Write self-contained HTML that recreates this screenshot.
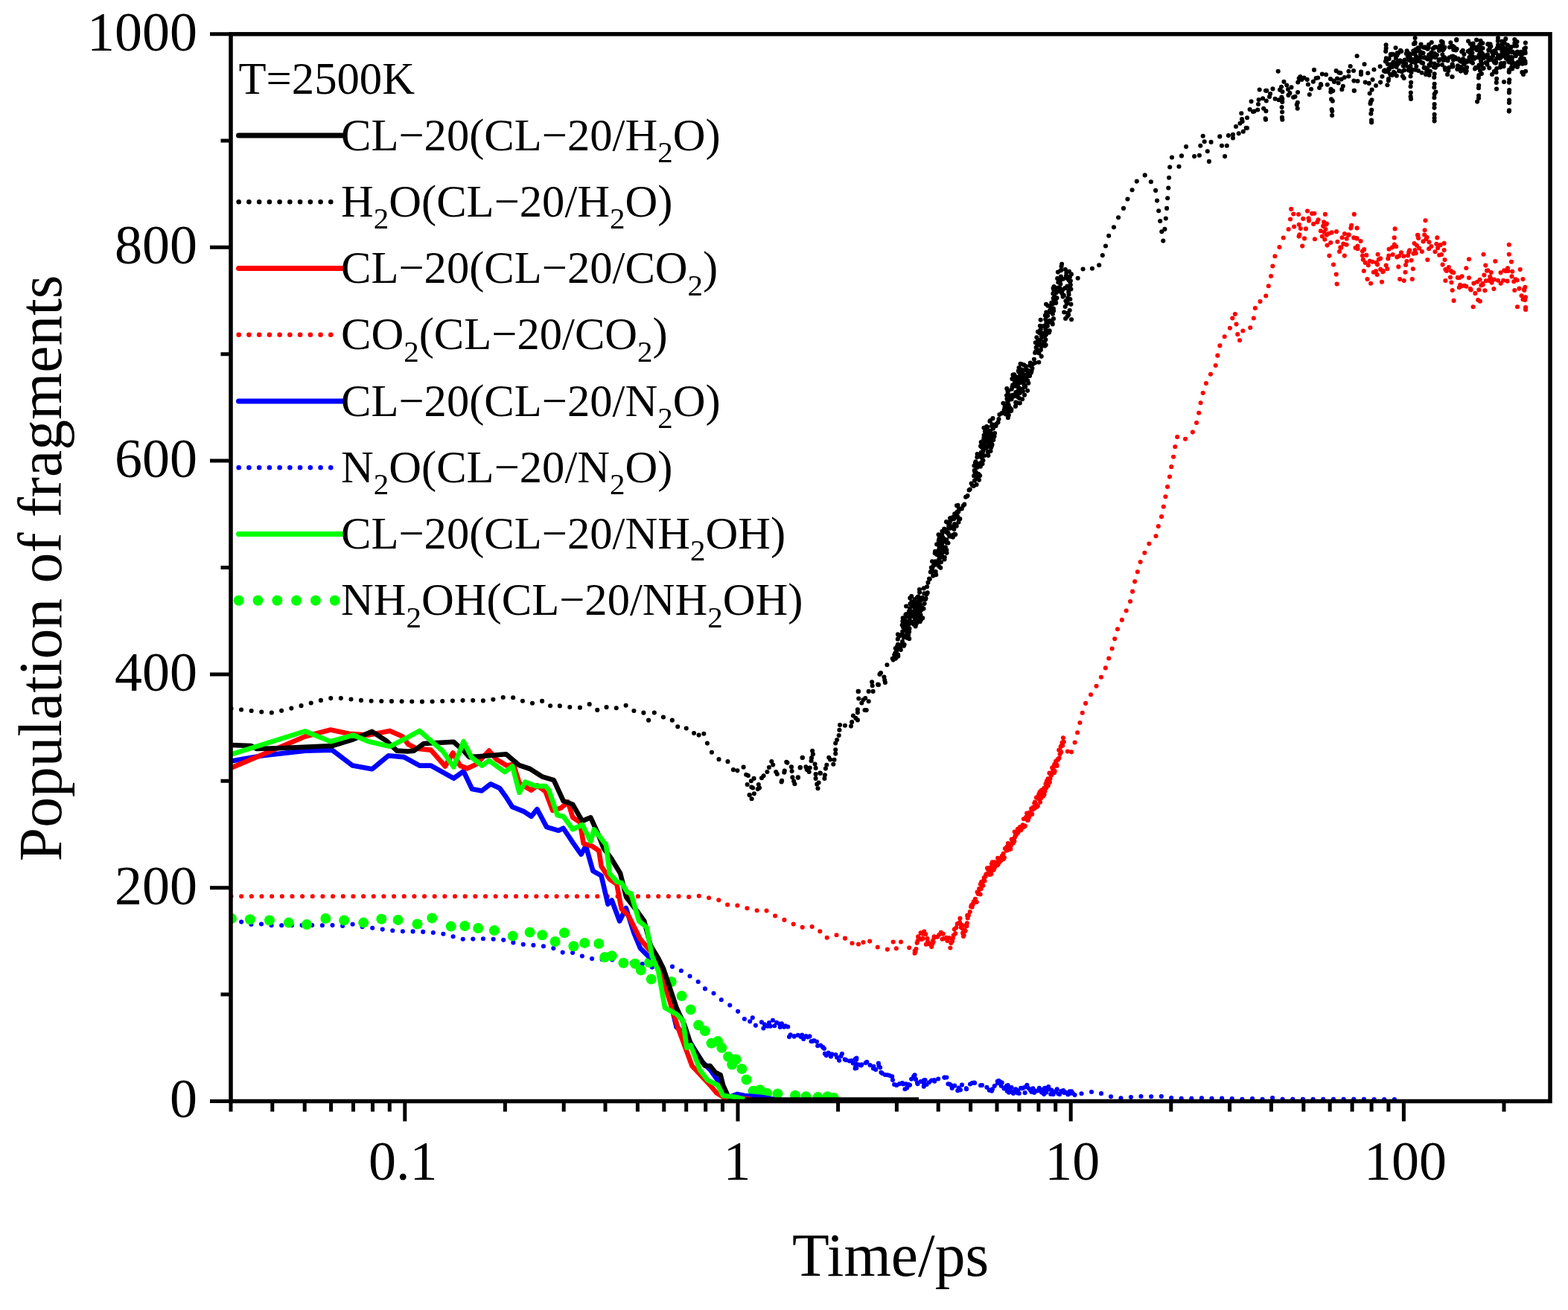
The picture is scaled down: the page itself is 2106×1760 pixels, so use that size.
<!DOCTYPE html>
<html><head><meta charset="utf-8"><title>Population of fragments</title>
<style>html,body{margin:0;padding:0;background:#fff;width:2106px;height:1760px;overflow:hidden} svg{display:block} .s{font-size:41px}</style>
</head><body>
<svg width="2106" height="1760" viewBox="0 0 2106 1760">
<rect width="2106" height="1760" fill="#fff"/>
<defs><clipPath id="c"><rect x="310.0" y="45.8" width="1772.0" height="1433.7"/></clipPath></defs>
<g clip-path="url(#c)" fill="none" stroke-linejoin="round">
<path d="M310.5,1238 324.1,1238.6 337.8,1242.1 351.4,1241.5 365.6,1243.3 378.9,1243.3 392.9,1243.3 406.5,1243.1 420.7,1243.1 434.3,1243.3 448,1243.1 461,1244 475.2,1241.5 488.8,1245.8 502.4,1247 516,1248.9 529.7,1250.5 543.3,1251.4 556.9,1251.4 570.4,1252 584,1253.2 597.7,1255.1 610.7,1258.8 624.9,1262.5 638.5,1261.3 652.1,1261.3 665.1,1261.9 678.8,1263.1 693,1267.5 706.6,1269.3 720.2,1270 733.2,1271.8 746.9,1274.9 757.4,1280.5 770.4,1279.9 784,1285.4 797,1288.5 822.6,1289.5 861.7,1294.7 877.3,1299.9 896.4,1298.2 907.7,1299 917.3,1306 927.7,1312.1 936.4,1317.3 944.2,1327.7 954.7,1330.3 964.2,1340.8 975.5,1346.8 983.3,1352.9 989.4,1357.3 997.2,1364.2 1002.5,1373.8 1003.9,1373.3 1005.3,1375.3 1006.6,1375.3 1008,1368.8 1009.4,1372.9 1010.8,1367.3 1012.1,1372 1013.5,1371.1 1014.8,1377.8 1016.2,1376.6 1017.5,1375.9 1018.9,1375.6 1020.2,1377.1 1021.6,1375.5 1022.6,1372 1023.6,1376.3 1024.6,1373.7 1025.6,1383.4 1026.6,1374 1027.6,1383.9 1028.6,1375.7 1029.6,1381.6 1030.3,1382.8 1031.1,1377.5 1031.8,1377.2 1032.6,1381.4 1033.3,1370.4 1034.1,1369.8 1034.8,1379 1035.6,1372.9 1036.7,1373.6 1037.8,1369.3 1038.9,1380.7 1040,1380.8 1041.1,1371.4 1042.3,1375.8 1043.4,1373 1044.5,1375.7 1045.6,1380.1 1046.7,1375.2 1047.8,1379.9 1049,1382 1050.1,1373.9 1051.3,1375.1 1052.5,1382.6 1053.6,1377.3 1054.8,1378.2 1055.5,1378.4 1056.2,1381.8 1056.9,1381.6 1057.6,1381.7 1058.2,1378.6 1058.9,1388.2 1059.6,1392.3 1060.3,1393.6 1061,1391.1 1061.7,1390.3 1063,1389 1064.3,1389.6 1065.6,1393.9 1066.9,1392.1 1068.1,1394.3 1069.4,1387.7 1070.6,1389.3 1071.9,1390.9 1073.1,1392.8 1074.4,1396.5 1075.6,1392.9 1076.8,1392.8 1077.9,1387 1079.1,1396.4 1080.3,1391.5 1081.4,1392.5 1082.6,1392.1 1083.6,1389.8 1084.6,1393.2 1085.6,1393.7 1086.5,1399.3 1087.5,1392.3 1088.5,1398.6 1089.5,1399 1090.6,1395.9 1091.7,1402.9 1092.8,1395.7 1093.8,1399.4 1094.9,1400.9 1096,1405.2 1097.1,1399 1098.2,1405.1 1099.4,1404.9 1100.5,1402.2 1101.7,1403.3 1102.9,1405.9 1104,1412 1105.2,1406.8 1105.9,1407.8 1106.5,1414.7 1107.2,1406.4 1107.8,1416.7 1108.5,1411.2 1109.1,1410.3 1109.8,1418.2 1110.4,1416.4 1111.8,1421.3 1113.2,1410.5 1114.5,1413.6 1115.9,1419.6 1117.3,1416.4 1118.5,1415.2 1119.6,1414.7 1120.8,1412.7 1122,1413.7 1123.1,1421.4 1124.3,1420.7 1125.6,1426.1 1126.9,1425.8 1128.2,1419.5 1129.5,1419 1130.5,1414 1131.5,1418.4 1132.5,1424.7 1133.5,1426 1134.5,1424.4 1135.5,1420.2 1136.5,1424.2 1137.9,1424.7 1139.3,1424.3 1140.6,1426.3 1142,1422.1 1143.4,1425.1 1144.6,1429.9 1145.7,1428.7 1146.9,1419.3 1148.1,1420.3 1149.2,1426.7 1150.4,1421.6 1150.2,1420.2 1150.1,1429.5 1149.9,1425.6 1149.7,1429 1149.6,1430.4 1149.4,1425.8 1149.3,1427.9 1149.1,1428.8 1148.9,1435.2 1148.8,1436.6 1148.6,1435.5 1149.7,1430.4 1150.8,1438.8 1151.9,1432.6 1152.9,1429.8 1154,1431.5 1155.1,1437.4 1156.2,1431.7 1157.3,1430.3 1158.5,1431.2 1159.6,1434.2 1160.8,1434.1 1162,1431.1 1163.1,1426.4 1164.3,1426.8 1165.3,1428.8 1166.2,1433.5 1167.2,1433.2 1168.2,1431.6 1169.1,1429.8 1170.1,1431 1171.1,1436.4 1172,1435.3 1173,1435.5 1174,1428.7 1175,1436.1 1176,1437.4 1176.9,1435.1 1177.9,1435.3 1178.9,1434.5 1179.9,1428.6 1180.3,1430.4 1180.7,1434.8 1181.1,1431.2 1181.5,1429.2 1181.8,1433.6 1182.2,1434.4 1182.6,1443.2 1183,1441.6 1183.4,1440.7 1184.6,1441.7 1185.9,1443.2 1187.1,1437.7 1188.4,1443.1 1189.6,1445.6 1190.9,1442.4 1192.1,1444.2 1193.1,1442.1 1194.1,1445.1 1195.1,1445 1196,1450.4 1197,1444.8 1198,1445.2 1199,1451.1 1199.7,1449.8 1200.5,1455.4 1201.2,1457.2 1202,1457 1202.7,1461.2 1203.5,1455.4 1204.2,1458 1205.5,1452.1 1206.7,1457.4 1208,1456.6 1209.2,1453.2 1210.5,1458.9 1211.7,1454.7 1213,1456.4 1213.9,1454.1 1214.7,1456.1 1215.6,1464.3 1216.5,1454 1217.3,1459.1 1218.2,1461.6 1218.9,1457.8 1219.6,1455.7 1220.3,1457.3 1221,1453.6 1221.7,1460.8 1222.4,1454.7 1223.1,1455.9 1223.7,1448.3 1224.4,1450.7 1225.1,1451.3 1225.8,1453 1226.5,1444.7 1227.2,1446 1227.9,1449.6 1228.6,1444.2 1229,1449.5 1229.5,1443.5 1229.9,1448.6 1230.3,1452.5 1230.8,1449.4 1231.2,1454.1 1231.7,1455.3 1232.1,1454.6 1233.4,1459.8 1234.7,1454.4 1236,1455.5 1237.3,1451.1 1238.6,1455.2 1239.9,1449.8 1241.2,1451.5 1242.5,1451.1 1242.3,1450.7 1242,1451.3 1241.8,1450.5 1241.5,1452.8 1241.3,1457.8 1241,1455.6 1240.8,1459.8 1242,1453.6 1243.1,1462 1244.3,1455.1 1245.4,1462.1 1246.6,1457.4 1247.8,1454.1 1248.9,1459.2 1250.1,1458.8 1251.2,1451.1 1252.4,1448.1 1253.5,1453.5 1254.7,1451.1 1256,1454.9 1257.2,1451.8 1258.5,1453.6 1259.8,1448.8 1261,1451 1262.3,1446.4 1263.5,1447.8 1264.8,1447.2 1266.1,1446.9 1267.3,1446.8 1268.6,1447.7 1269.5,1452.4 1270.3,1445.8 1271.2,1447.3 1272.1,1448.9 1272.9,1458.6 1273.8,1454.2 1274.7,1449.6 1275.6,1460 1276.4,1461.5 1277.3,1458.1 1278.6,1462.4 1279.9,1457.3 1281.2,1462.2 1282.5,1457.5 1283.8,1455.9 1285.1,1465.1 1286.4,1465.2 1287.7,1461.6 1289,1458.3 1290.3,1466.6 1291.6,1456.5 1292.9,1460.2 1294.2,1456.8 1295.5,1458.9 1296.8,1459 1298.1,1463.3 1299.1,1465 1300.2,1459.1 1301.2,1457 1302.3,1456 1303.3,1456.7 1304.3,1462.4 1305.4,1458.5 1306.4,1451.6 1307.5,1457.7 1308.5,1454.6 1309.8,1455.5 1311.1,1454.9 1312.4,1456.2 1313.8,1458.2 1315.1,1460.4 1316.4,1457.3 1317.7,1459.3 1319,1458.1 1320.3,1458.2 1321.5,1460.7 1322.8,1458.2 1324.1,1459 1325.3,1460.7 1326.6,1463.5 1327.8,1458.8 1329.1,1467 1330.4,1462.3 1331.6,1467.1 1332.9,1463.3 1333.7,1464.4 1334.4,1466.5 1335.2,1462 1336,1457.8 1336.7,1456.4 1337.5,1457.7 1338.3,1458.3 1339,1458.1 1339.8,1452.9 1340.3,1460.3 1340.8,1455.6 1341.4,1452 1341.9,1457.6 1342.5,1451.5 1342.9,1451.6 1343.6,1459.2 1343.8,1462.8 1344.6,1459.2 1345.1,1453.5 1345.4,1458.1 1345.7,1454.2 1346,1452.4 1346.5,1457.6 1347.2,1458.8 1347.8,1458.9 1348.3,1458.7 1348.7,1465.3 1349.5,1463.9 1350.1,1457.9 1350.4,1457.8 1350.7,1463.7 1351.2,1464.9 1351.6,1466.5 1352.3,1455.4 1352.7,1466.5 1353.1,1467.6 1353.6,1457 1354.2,1465.8 1354.5,1457.7 1355,1468.4 1355.6,1458.6 1356,1458.6 1356.2,1467.2 1356.6,1464.5 1357,1460.3 1357.7,1460 1358.2,1460.1 1358.7,1461.5 1359.1,1470.8 1359.7,1463.2 1360.4,1462.5 1360.9,1470.2 1361.4,1461 1362.2,1462.3 1362.6,1468.9 1363,1463.1 1363.3,1460.6 1363.8,1462.3 1364.4,1463.8 1364.8,1470.7 1365.3,1466 1366,1461.2 1366.3,1469.9 1367,1461.9 1367.3,1467.7 1368.1,1461 1368.8,1469.1 1369.3,1463.5 1369.6,1458.9 1370.4,1461.1 1371,1461.2 1371.6,1465.2 1372,1460.1 1372.6,1458.7 1373,1464.5 1373.7,1465.1 1374.1,1468.6 1374.4,1457.8 1374.8,1462.8 1375.1,1459.6 1375.5,1464.2 1375.8,1461.7 1376.5,1469 1377.1,1465.4 1377.7,1458.7 1377.9,1457.3 1378.6,1465.7 1379.4,1457.7 1379.9,1463.4 1380.5,1461.6 1381.3,1458.9 1381.8,1467 1382.5,1467.1 1383.1,1468 1383.8,1462.9 1384.4,1469.6 1385.1,1464 1385.7,1469.5 1386.3,1466.8 1386.7,1466.4 1387.3,1460.5 1387.9,1471.6 1388.5,1468.6 1389,1468.8 1389.5,1465.2 1390.2,1460.9 1390.8,1460.1 1391.4,1465.5 1391.7,1468.1 1392.2,1467 1392.9,1462.6 1393.2,1463.1 1393.8,1461.9 1394.1,1470.3 1394.7,1464.6 1395.4,1463.2 1396,1461.6 1396.4,1468.8 1397.2,1469.6 1397.6,1466 1398,1460.6 1398.5,1468.9 1399.2,1467.4 1399.9,1462.1 1400.2,1464.1 1400.6,1461.2 1401.1,1466.1 1401.6,1462.3 1402.2,1470.2 1402.7,1459.3 1403,1468.8 1403.3,1466.8 1403.8,1462 1404.4,1458.4 1404.8,1463.6 1405,1468.1 1405.4,1459.8 1405.7,1465.6 1406.1,1465.6 1406.7,1467.8 1407.4,1466.5 1407.8,1464.1 1408.1,1458.6 1408.6,1467.1 1409,1461.9 1409.4,1467.1 1409.9,1466.2 1410.5,1463.7 1411.2,1470 1411.5,1470.4 1412.1,1460.9 1412.5,1467 1413.3,1464.2 1413.8,1470.3 1414.4,1471.2 1414.9,1467.8 1415.3,1468.8 1415.9,1467.9 1416.5,1462.9 1417.2,1472.2 1418,1467.1 1418.6,1464.6 1419.3,1471.1 1419.8,1461.9 1420.2,1467.6 1420.9,1467 1421.1,1470.9 1421.4,1470.9 1421.7,1465.4 1422.4,1463.1 1422.7,1467.7 1423.3,1471.7 1423.9,1473.1 1424.4,1473.2 1424.7,1464.6 1425.2,1465.5 1425.8,1469.6 1426.3,1472 1426.9,1465.6 1427.3,1471.9 1428,1464.2 1428.7,1473.3 1429.2,1468.5 1429.6,1468 1430.1,1468.8 1430.3,1473.1 1430.8,1466.2 1431.5,1468.1 1432,1469.6 1432.3,1467.7 1432.7,1472.7 1433.4,1464.4 1433.9,1462.6 1434.4,1470.8 1435.1,1466.8 1435.5,1463.6 1436,1472.6 1436.4,1471 1436.6,1464.1 1437,1470.2 1437.4,1466.4 1438,1463.6 1438.6,1464.1 1439.1,1465.8 1439.4,1469.3 1439.9,1467.7 1440.3,1469.7 1440.7,1465.9 1441.2,1471.4 1441.8,1474.1 1442.3,1474.4 1442.7,1473.2 1443.3,1475.4 1443.7,1468.5 1444.3,1471 1457.6,1468.1 1471.9,1466.2 1484.3,1471.3 1497.6,1474.8 1511,1475.7 1524.3,1472.9 1538.6,1473.2 1551.9,1473.2 1565.2,1472.9 1577.6,1476.3 1591,1475.7 1605.2,1475.9 1618.6,1474.8 1631.9,1476.3 1645.2,1475.1 1658.6,1476.3 1669,1476.7 1681.4,1475.9 1694.8,1477 1708.1,1474.8 1720.5,1476.7 1880,1477" stroke="#00f" stroke-width="6.1" stroke-linecap="round" stroke-dasharray="0 13.66"/>
<g fill="#00f" stroke="none"><circle cx="1047.8" cy="1379.9" r="3.05"/><circle cx="1054.8" cy="1378.2" r="3.05"/><circle cx="1061.7" cy="1390.3" r="3.05"/><circle cx="1066.9" cy="1392.1" r="3.05"/><circle cx="1075.6" cy="1392.9" r="3.05"/><circle cx="1082.6" cy="1392.1" r="3.05"/><circle cx="1089.5" cy="1399" r="3.05"/><circle cx="1098.2" cy="1405.1" r="3.05"/><circle cx="1105.2" cy="1406.8" r="3.05"/><circle cx="1110.4" cy="1416.4" r="3.05"/><circle cx="1117.3" cy="1416.4" r="3.05"/><circle cx="1124.3" cy="1420.7" r="3.05"/><circle cx="1129.5" cy="1419" r="3.05"/><circle cx="1136.5" cy="1424.2" r="3.05"/><circle cx="1143.4" cy="1425.1" r="3.05"/><circle cx="1150.4" cy="1421.6" r="3.05"/><circle cx="1148.6" cy="1435.5" r="3.05"/><circle cx="1157.3" cy="1430.3" r="3.05"/><circle cx="1164.3" cy="1426.8" r="3.05"/><circle cx="1173" cy="1435.5" r="3.05"/><circle cx="1179.9" cy="1428.6" r="3.05"/><circle cx="1183.4" cy="1440.7" r="3.05"/><circle cx="1192.1" cy="1444.2" r="3.05"/><circle cx="1199" cy="1451.1" r="3.05"/><circle cx="1204.2" cy="1458" r="3.05"/><circle cx="1213" cy="1456.4" r="3.05"/><circle cx="1218.2" cy="1461.6" r="3.05"/><circle cx="1228.6" cy="1444.2" r="3.05"/><circle cx="1232.1" cy="1454.6" r="3.05"/><circle cx="1242.5" cy="1451.1" r="3.05"/><circle cx="1240.8" cy="1459.8" r="3.05"/><circle cx="1254.7" cy="1451.1" r="3.05"/><circle cx="1268.6" cy="1447.7" r="3.05"/><circle cx="1277.3" cy="1458.1" r="3.05"/><circle cx="1287.7" cy="1461.6" r="3.05"/><circle cx="1298.1" cy="1463.3" r="3.05"/><circle cx="1308.5" cy="1454.6" r="3.05"/><circle cx="1319" cy="1458.1" r="3.05"/><circle cx="1332.9" cy="1463.3" r="3.05"/><circle cx="1339.8" cy="1452.9" r="3.05"/></g>
<path d="M310.5,1204.3 914.5,1204.3 927.2,1205.2 940,1203.6 954.4,1206.8 964,1208.4 975.1,1215.6 986.3,1214.8 996.4,1219.1 1006.8,1220.8 1015.5,1223.4 1027,1221.7 1037.4,1229.5 1047.8,1232.1 1058.2,1239.1 1068.7,1242.6 1075.6,1246.9 1082.6,1243.4 1091.3,1245.2 1098.2,1246 1103.4,1254.7 1108.6,1260 1119.1,1259.1 1126,1254.7 1136.5,1261.7 1141.7,1268.6 1152.1,1263.4 1153.8,1273 1164.3,1260 1173,1270.4 1186.9,1275.6 1193.8,1275.6 1200.8,1263.4 1204.2,1275.6 1209.5,1265.2 1219.9,1272.1 1228.6,1280.8 1228.9,1274.1 1229.2,1281.2 1229.6,1279.1 1229.9,1275.3 1230.2,1269.8 1230.5,1277.7 1230.9,1276.6 1231.2,1270.6 1231.5,1269.2 1231.8,1263.6 1232.2,1258.6 1232.5,1263.1 1232.8,1265.3 1233.1,1255.7 1233.5,1266 1233.8,1260 1234.7,1254.8 1235.5,1254 1236.4,1250 1237.3,1264.4 1238.1,1259.4 1239,1254.7 1239.7,1261.8 1240.4,1258.7 1241.1,1250.4 1241.8,1256.2 1242.5,1259.9 1243.2,1254.9 1243.9,1269.3 1244.6,1261 1245.3,1258.6 1246,1265.2 1246.7,1271.3 1247.5,1261.2 1248.2,1275 1249,1268.4 1249.7,1271 1250.5,1268.6 1251.2,1272.1 1251.5,1270.6 1251.8,1264.6 1252.2,1260.9 1252.5,1272.9 1252.8,1261.5 1253.1,1269 1253.4,1258.6 1253.7,1269.5 1254.1,1267 1254.4,1263.5 1254.7,1258.2 1256,1262 1257.4,1258.7 1258.7,1260.7 1260.1,1250.6 1261.4,1255.9 1262.8,1261.1 1264.1,1250.7 1265.5,1261.9 1266.8,1254.7 1267.7,1261.9 1268.5,1255.3 1269.4,1255.6 1270.3,1258 1271.2,1258 1272,1268.7 1272.9,1260 1273.8,1255.3 1274.7,1257.3 1275.5,1268.4 1276.4,1273.8 1277.3,1266.9 1277.7,1265.5 1278.2,1264.2 1278.6,1263.8 1279,1265.7 1279.4,1256 1279.8,1260.8 1280.3,1258.7 1280.7,1256.5 1281.2,1257.2 1281.7,1248.9 1282.2,1247.5 1282.6,1249 1283.1,1257.1 1283.6,1246.5 1284.1,1249.3 1284.6,1243.4 1285.1,1238.9 1285.5,1237 1286,1247.7 1286.5,1245.9 1287,1238.2 1287.5,1241.9 1288,1240.5 1288.4,1242.8 1288.9,1242.5 1289.4,1233.9 1289.7,1233.7 1290,1244.4 1290.3,1245.3 1290.6,1240.7 1290.9,1246.7 1291.2,1241.7 1291.5,1241.2 1291.8,1240.5 1292.2,1251.9 1292.5,1241.8 1292.8,1241.6 1293.1,1254.7 1293.4,1255.6 1293.7,1252.2 1294,1259.2 1294.3,1248 1294.6,1256.5 1294.9,1251.4 1295.2,1250.6 1295.6,1251.4 1295.9,1246.2 1296.2,1243.3 1296.5,1246.3 1296.8,1254 1297.1,1254.1 1297.5,1249.1 1297.8,1243.5 1298.1,1242.6 1298.3,1237.3 1298.5,1247.2 1298.7,1238.9 1298.9,1240.8 1299,1228.3 1299.2,1229.9 1299.4,1238.5 1299.6,1236.5 1299.8,1230.4 1300.3,1235.3 1300.9,1229.6 1301.4,1225.6 1302,1226.9 1302.5,1230 1303,1220.1 1303.6,1222.5 1304.1,1217.2 1304.6,1223.9 1305.2,1210.6 1305.7,1220.2 1306.3,1223.3 1306.8,1214.8 1307.4,1206 1308,1214 1308.5,1213.6 1309.1,1215.8 1309.7,1210.4 1310.3,1204 1310.9,1205.2 1311.5,1212.9 1312,1210.9 1312.6,1197.4 1313.2,1195.6 1313.8,1200.9 1314,1203.2 1314.2,1200.7 1314.4,1191.5 1314.7,1190.4 1315,1190.4 1315.2,1196.3 1315.6,1190 1315.8,1198.5 1316.2,1196.6 1316.5,1203.2 1316.7,1200.7 1316.9,1187.3 1317.1,1189.8 1317.5,1186.6 1317.8,1194.1 1318.1,1191.8 1318.2,1182.7 1318.5,1193.3 1318.7,1186.1 1319.1,1187.9 1319.3,1193.4 1319.7,1182.7 1320,1187 1320.4,1189.7 1320.6,1193.7 1320.8,1183.1 1321.2,1177.5 1321.5,1174.8 1321.8,1187 1322.2,1188.2 1322.4,1184.4 1322.7,1181.6 1323,1185.6 1323.5,1178 1323.8,1169.8 1324.2,1179.5 1324.6,1181.6 1324.8,1173.2 1325.2,1165.8 1325.5,1167.8 1325.7,1165.5 1326,1166.4 1326.3,1170.9 1326.7,1164.9 1327,1173 1327.4,1177.5 1327.8,1167.3 1328.1,1168.5 1328.5,1178.9 1328.7,1164.6 1328.9,1165.4 1329.2,1171.5 1329.4,1160.8 1329.7,1167 1330,1177.2 1330.4,1169 1330.7,1171.6 1330.9,1175.4 1331.3,1174.6 1331.7,1165.5 1331.9,1160 1332.3,1159 1332.4,1161.4 1332.6,1163.6 1332.8,1157.3 1333,1158.9 1333.2,1157.3 1333.7,1167.5 1333.9,1160.8 1334.1,1162.5 1334.3,1171.1 1334.7,1163.7 1335,1156.6 1335.2,1161 1335.5,1169.6 1335.6,1154.9 1336.1,1163.5 1336.3,1163.6 1336.4,1163.2 1336.9,1168.8 1337.2,1157.6 1337.5,1155.6 1337.9,1161.8 1338.3,1157.8 1338.5,1166.2 1338.9,1166.5 1339.3,1165.5 1339.7,1154.5 1340,1156.5 1340.2,1150.4 1340.4,1154.4 1340.7,1166.6 1341,1165.9 1341.5,1165.8 1341.7,1152.3 1342,1151.7 1342.2,1159.2 1342.6,1162.6 1342.9,1158.9 1343.3,1148.1 1343.6,1162.4 1344,1159 1344.3,1148.2 1344.7,1150.4 1345.1,1161.3 1345.3,1150.7 1345.8,1155.8 1346,1144.8 1346.2,1158.5 1346.6,1144.2 1347,1158.7 1347.3,1146.8 1347.6,1142.4 1347.8,1157.3 1348.1,1148.8 1348.6,1146.4 1349,1152.9 1349.2,1142.2 1349.4,1141.7 1349.7,1141.5 1350,1138.8 1350.4,1142.2 1350.7,1145.9 1351.1,1142.3 1351.6,1143.1 1351.9,1143.1 1352,1141.3 1352.2,1133.2 1352.6,1135.6 1352.9,1145.1 1353.2,1137.5 1353.5,1141.2 1353.9,1132.5 1354.3,1134.6 1354.5,1143.7 1354.8,1139.4 1355.2,1145.2 1355.4,1139.3 1355.7,1137.1 1356.1,1135.5 1356.4,1135.5 1356.8,1138.8 1357.3,1142.6 1357.5,1135.3 1357.9,1139.7 1358.1,1126.5 1358.4,1125.2 1358.6,1124.9 1359,1137.2 1359.4,1125.2 1359.8,1133.8 1359.9,1137.5 1360.4,1124.8 1360.8,1127.3 1361.1,1137.5 1361.5,1121.9 1361.8,1127.8 1362.1,1121.7 1362.3,1130.7 1362.5,1127.5 1362.7,1117.3 1363,1127.8 1363.3,1117.3 1363.7,1129.6 1364.2,1116.6 1364.4,1115 1364.8,1118.5 1365,1121 1365.4,1127.4 1365.6,1115 1366.1,1121.9 1366.4,1112.6 1366.6,1123.2 1366.9,1111.6 1367.3,1121 1367.7,1110.5 1368.1,1109.5 1368.5,1115.8 1368.7,1117.2 1369.2,1111.4 1369.4,1115.7 1369.6,1107.8 1369.8,1106.5 1370,1110.8 1370.2,1118.5 1370.5,1113.4 1370.7,1110.3 1370.8,1108.4 1371,1116.8 1371.3,1106.5 1371.6,1119.4 1371.8,1117 1372.1,1110.8 1372.5,1108.3 1372.8,1113.1 1373.2,1106.2 1373.6,1112.1 1373.9,1106.1 1374.2,1099.4 1374.4,1099.4 1374.8,1102.1 1375,1098.8 1375.4,1112.3 1375.7,1101.1 1375.9,1101 1376.2,1098.1 1376.5,1099.6 1376.9,1111.7 1377.3,1098.1 1377.7,1098.6 1378,1092.6 1378.2,1100.7 1378.5,1095.3 1378.8,1091.3 1379.1,1092.5 1379.3,1091.2 1379.5,1095.7 1379.7,1100.4 1380,1102.9 1380.4,1101.8 1380.8,1095.2 1381,1105.6 1381.2,1100.6 1381.6,1087.8 1382,1102.4 1382.3,1099.1 1382.7,1087.8 1383,1093.8 1383.4,1098.6 1383.8,1094 1384.2,1095.2 1384.6,1086.5 1384.7,1084.5 1385,1083.6 1385.4,1091.1 1385.7,1091.8 1386.1,1088.8 1386.2,1094.1 1386.6,1088.2 1386.9,1090.5 1387.1,1091.7 1387.3,1079.4 1387.5,1090.8 1387.8,1090.7 1388.2,1085.6 1388.5,1084.9 1388.8,1089.5 1389.1,1086.7 1389.3,1077.5 1389.5,1087.8 1389.8,1084.3 1389.9,1074.9 1390.2,1085.5 1390.5,1084.9 1390.8,1081.6 1391.1,1080.2 1391.2,1087.6 1391.5,1088.8 1391.9,1070.7 1392.2,1084.7 1392.6,1077.2 1392.8,1072.5 1393.3,1071.8 1393.6,1070 1393.9,1084 1394.1,1081.3 1394.4,1082 1394.8,1069.5 1395.2,1073.4 1395.3,1064.4 1395.6,1072 1395.9,1066 1396.1,1068.7 1396.5,1062.3 1396.9,1076.7 1397.1,1078 1397.5,1076.9 1397.7,1067 1398,1077.8 1398.3,1065.7 1398.6,1063.7 1398.7,1060.3 1399.1,1062.9 1399.6,1061.5 1399.8,1065.8 1400,1063 1400.4,1071.4 1400.8,1066.1 1401.3,1071 1401.6,1066.5 1401.7,1066.4 1402,1066.3 1402.4,1057.3 1402.5,1068.5 1402.7,1059.9 1403,1056.2 1403.3,1067.6 1403.6,1061.3 1403.8,1059 1404.1,1051.4 1404.3,1051.6 1404.7,1055.9 1404.9,1062.8 1405.4,1053.5 1405.6,1048.5 1405.7,1050.8 1405.9,1048.5 1406.1,1053.9 1406.6,1056.2 1406.8,1049.6 1407.1,1048.2 1407.4,1042 1407.6,1057.8 1407.8,1049 1408.1,1054.7 1408.4,1043.5 1408.6,1045.3 1408.9,1054.7 1409.3,1052.3 1409.4,1036.8 1409.8,1051.6 1410.1,1045.4 1410.2,1041.6 1410.7,1048.4 1411.1,1050.2 1411.3,1034.2 1411.5,1041.2 1411.8,1048 1412.2,1041.9 1412.6,1037.7 1412.9,1029.5 1413.3,1032.1 1413.7,1038.6 1414,1028.8 1414.2,1037.4 1414.5,1027.2 1414.7,1034.3 1415,1031.1 1415.3,1034.5 1415.4,1028.8 1415.7,1040 1416,1037.9 1416.3,1025.6 1416.6,1038.2 1416.9,1025.6 1417.1,1028.7 1417.4,1026.6 1417.7,1030.5 1418.1,1021.7 1418.2,1023.3 1418.5,1028.9 1418.7,1030.5 1419.1,1024.5 1419.3,1032.4 1419.6,1029.2 1419.8,1017.8 1420.2,1017.9 1420.6,1020.1 1420.8,1014.5 1421.1,1021.6 1421.5,1010.8 1421.8,1011.1 1422.2,1008.3 1422.4,1006.3 1422.6,1020.5 1423.1,1016.2 1423.5,1018.3 1423.8,1004 1424.2,1012.7 1424.3,1010.7 1424.6,1004.6 1424.9,1000.1 1425,1001.6 1425.3,1012.9 1425.5,1012.4 1425.7,1000.8 1426.1,1007.9 1426.3,993 1426.6,997.9 1427.1,993.2 1427.3,1005 1427.5,995.8 1427.9,1000.9 1428,987.2 1428.2,995 1432,1005 1436.8,1016.2 1442.7,1000.9 1446.2,988 1449.6,974.4 1453,960.7 1456.4,947.9 1463.2,935.9 1470.9,924.8 1477.8,912 1484.1,899.5 1493.3,872.8 1500.5,846.2 1511.8,822.6 1518,808.2 1524.1,781.5 1531.3,755.9 1537.4,742.6 1542.6,731.3 1552.8,720 1555.9,706.7 1560,694.4 1563.1,679 1568.2,653.3 1571.3,639 1573.3,626.7 1576.4,612.3 1578.5,599 1581.5,585.6 1590.8,590.8 1601,582.6 1606.5,570.3 1609.9,556.6 1612.2,543 1615.1,529.9 1619.1,516.8 1624.2,505.4 1632.2,493.4 1635,479.7 1637.3,466.6 1643.6,454.1 1652.1,440.4 1655.5,426.7 1658.4,418.2 1660.1,432.4 1661.8,445.5 1663.5,459.8 1666.4,455.2 1669.8,442.7 1677.7,443.8 1683.4,430.7 1685.2,416.5 1688,405.1 1698.3,405.1 1701.9,390.9 1705.6,377.9 1708.4,364.9 1710.2,351 1713.9,339.9 1720.4,328.7 1725.1,315.7 1730.6,308.3 1733.4,292.5 1734.4,277.6 1738,290.2 1741.2,286.5 1743.9,285.1 1745.5,318 1747.1,305.1 1749.2,298.3 1751.4,288.9 1754.3,285.2 1755.9,282.7 1757.6,296.7 1760.7,295.9 1762,292.1 1765.3,286.4 1767.8,298.7 1770.3,298.3 1773,305.1 1775.5,320.6 1777.9,294.3 1779.1,323.7 1781.3,297.5 1784.5,312.6 1787.2,326.6 1788.9,310 1791.9,306.1 1794.7,308.5 1797.3,333.7 1800.5,342.1 1802.7,317.5 1804.2,328.5 1806.4,310.7 1809.5,324.6 1812.1,312.7 1813.7,304.2 1815.6,312.2 1817.6,315 1820.6,333.3 1822.1,318.6 1823.5,331.3 1826.8,321.5 1829.5,330.9 1830.7,349.9 1832.5,332.4 1834.6,339 1836.6,350.9 1838.6,360.3 1840.3,345.3 1841.6,345.2 1843.9,353.4 1846.8,357.5 1849.4,373.5 1850.7,338.3 1852.1,351.1 1854.4,363 1856.3,370.2 1857.4,365.1 1859,365.9 1860.1,368.6 1862.9,366.4 1865.3,334.4 1868.5,340.2 1869.8,344.7 1872,337.4 1873.4,323.2 1875.8,334.2 1877.2,335.3 1879.9,348.3 1882,339.1 1883.9,335.2 1885.5,344.9 1886.8,356.5 1889.4,355.4 1890.6,346.2 1892.6,333.1 1895.9,351.8 1898.1,346.5 1899.6,326.9 1901.9,341.8 1904.4,311.2 1906.9,341.6 1909.6,340.6 1912.8,313.2 1914.6,323.8 1917.9,315.4 1921,334.8 1923.3,328.3 1926.5,336.2 1928.2,339.7 1929.7,323.7 1933,344.7 1934.7,328.8 1937.2,354.3 1939.8,363.7 1942.5,365.8 1944.9,354.9 1947,364.6 1949.2,382.8 1950.9,359.3 1953.6,373.3 1955.7,370.6 1958.6,373.8 1960.3,391.3 1962.5,370.5 1965.6,372.6 1967.5,390.9 1970.3,381.3 1972,385.6 1974.4,389.1 1976.3,389.7 1979.1,378.9 1981.7,396.1 1985,405.1 1987.8,372.8 1990.2,389 1991.5,379.1 1994.5,390.6 1997.7,356.7 2000.1,381.2 2002.6,362.2 2003.8,384.1 2006.8,375.4 2008.7,382.2 2011.6,379.2 2014,365.2 2015.8,366.5 2017.6,371.5 2019,378.1 2020.8,357 2022.5,364.5 2024.5,377.7 2025.9,356.9 2027.6,354.5 2030.3,351.5 2031.6,369.5 2034.3,383.5 2036.6,369.2 2039.7,388.7 2041.8,385.9 2045,406.5 2048.1,380.4 2049,395 2049.1,416" stroke="#f00" stroke-width="6.1" stroke-linecap="round" stroke-dasharray="0 13.66"/>
<g fill="#f00" stroke="none"><circle cx="1228.6" cy="1280.8" r="3.05"/><circle cx="1233.8" cy="1260" r="3.05"/><circle cx="1239" cy="1254.7" r="3.05"/><circle cx="1246" cy="1265.2" r="3.05"/><circle cx="1251.2" cy="1272.1" r="3.05"/><circle cx="1254.7" cy="1258.2" r="3.05"/><circle cx="1266.8" cy="1254.7" r="3.05"/><circle cx="1277.3" cy="1266.9" r="3.05"/><circle cx="1280.7" cy="1256.5" r="3.05"/><circle cx="1289.4" cy="1233.9" r="3.05"/><circle cx="1294.6" cy="1256.5" r="3.05"/><circle cx="1298.1" cy="1242.6" r="3.05"/><circle cx="1299.8" cy="1230.4" r="3.05"/><circle cx="1306.8" cy="1214.8" r="3.05"/><circle cx="1313.8" cy="1200.9" r="3.05"/><circle cx="1738.1" cy="304.6" r="3.05"/><circle cx="1744.6" cy="317.6" r="3.05"/><circle cx="1749.2" cy="330.6" r="3.05"/><circle cx="1752" cy="320.4" r="3.05"/><circle cx="1753.9" cy="307.4" r="3.05"/><circle cx="1757.6" cy="293.4" r="3.05"/><circle cx="1762.2" cy="286.9" r="3.05"/><circle cx="1764.1" cy="300.9" r="3.05"/><circle cx="1765.9" cy="321.3" r="3.05"/><circle cx="1770.6" cy="295.3" r="3.05"/><circle cx="1779.9" cy="287.9" r="3.05"/><circle cx="1780.8" cy="301.8" r="3.05"/><circle cx="1781.7" cy="315.7" r="3.05"/><circle cx="1782.6" cy="329.6" r="3.05"/><circle cx="1785.4" cy="343.6" r="3.05"/><circle cx="1791" cy="355.6" r="3.05"/><circle cx="1794.7" cy="368.6" r="3.05"/><circle cx="1795.6" cy="381.6" r="3.05"/><circle cx="1800.3" cy="332.4" r="3.05"/><circle cx="1805.8" cy="343.6" r="3.05"/><circle cx="1808.6" cy="328.7" r="3.05"/><circle cx="1811.4" cy="315.7" r="3.05"/><circle cx="1815.1" cy="302.7" r="3.05"/><circle cx="1818.8" cy="287.9" r="3.05"/><circle cx="1822.6" cy="306.4" r="3.05"/><circle cx="1822.6" cy="320.4" r="3.05"/><circle cx="1823.5" cy="334.3" r="3.05"/><circle cx="1830" cy="343.6" r="3.05"/><circle cx="1833.7" cy="352.9" r="3.05"/><circle cx="1831.8" cy="364" r="3.05"/><circle cx="1836.5" cy="375.1" r="3.05"/><circle cx="1841.1" cy="380.7" r="3.05"/><circle cx="1844.8" cy="365.8" r="3.05"/><circle cx="1848.6" cy="352.9" r="3.05"/><circle cx="1854.1" cy="347.3" r="3.05"/><circle cx="1857.8" cy="364" r="3.05"/><circle cx="1856" cy="378.8" r="3.05"/><circle cx="1861.6" cy="356.6" r="3.05"/><circle cx="1865.3" cy="343.6" r="3.05"/><circle cx="1869.9" cy="332.4" r="3.05"/><circle cx="1872.7" cy="319.4" r="3.05"/><circle cx="1873.6" cy="307.4" r="3.05"/><circle cx="1876.4" cy="345.4" r="3.05"/><circle cx="1878.3" cy="358.4" r="3.05"/><circle cx="1880.1" cy="375.1" r="3.05"/><circle cx="1885.7" cy="377" r="3.05"/><circle cx="1887.5" cy="365.8" r="3.05"/><circle cx="1889.4" cy="351" r="3.05"/><circle cx="1892.2" cy="338.9" r="3.05"/><circle cx="1896.8" cy="375.1" r="3.05"/><circle cx="1897.8" cy="361.2" r="3.05"/><circle cx="1900.6" cy="336.1" r="3.05"/><circle cx="1904.3" cy="315.7" r="3.05"/><circle cx="1913.6" cy="309.2" r="3.05"/><circle cx="1914.5" cy="296.2" r="3.05"/><circle cx="1915.4" cy="321.3" r="3.05"/><circle cx="1919.1" cy="334.3" r="3.05"/><circle cx="1917.3" cy="349.1" r="3.05"/><circle cx="1930.3" cy="319.4" r="3.05"/><circle cx="1939.6" cy="326.9" r="3.05"/><circle cx="1939.6" cy="336.1" r="3.05"/><circle cx="1940.5" cy="349.1" r="3.05"/><circle cx="1941.4" cy="362.1" r="3.05"/><circle cx="1941.4" cy="377" r="3.05"/><circle cx="1948.8" cy="364" r="3.05"/><circle cx="1950.7" cy="390" r="3.05"/><circle cx="1952.6" cy="403.9" r="3.05"/><circle cx="1960" cy="373.3" r="3.05"/><circle cx="1962.8" cy="384.4" r="3.05"/><circle cx="1969.3" cy="360.3" r="3.05"/><circle cx="1973" cy="348.2" r="3.05"/><circle cx="1973" cy="373.3" r="3.05"/><circle cx="1974.8" cy="388.1" r="3.05"/><circle cx="1978.6" cy="412.3" r="3.05"/><circle cx="1984.1" cy="378.8" r="3.05"/><circle cx="1987.8" cy="404.8" r="3.05"/><circle cx="1991.6" cy="382.6" r="3.05"/><circle cx="1992.5" cy="341.7" r="3.05"/><circle cx="1995.3" cy="356.6" r="3.05"/><circle cx="1993.4" cy="369.6" r="3.05"/><circle cx="2002.7" cy="375.1" r="3.05"/><circle cx="2008.3" cy="351" r="3.05"/><circle cx="2006.4" cy="388.1" r="3.05"/><circle cx="2015.7" cy="380.7" r="3.05"/><circle cx="2025" cy="360.3" r="3.05"/><circle cx="2026.8" cy="328.7" r="3.05"/><circle cx="2026.8" cy="341.7" r="3.05"/><circle cx="2030.5" cy="371.4" r="3.05"/><circle cx="2034.3" cy="390" r="3.05"/><circle cx="2038" cy="412.3" r="3.05"/><circle cx="2041.7" cy="362.1" r="3.05"/><circle cx="2045.4" cy="375.1" r="3.05"/><circle cx="2047.3" cy="390" r="3.05"/><circle cx="2048.2" cy="403" r="3.05"/><circle cx="2049.1" cy="416" r="3.05"/></g>
<path d="M310.5,952 326.9,953.8 340.9,955.4 354.8,956.8 367.8,957.8 381.8,953.8 394.7,950.8 407.7,947.3 421.2,943.5 434.6,939.9 447.6,937.5 461.5,938.3 475.5,939.9 489,941.3 502.4,941.9 572.2,942.7 599.1,941.9 626.4,940.9 653.9,941.5 666.9,938.9 680.9,935.9 694.5,938.1 707.1,944.2 719.6,945 730.3,941.1 741.7,950.3 753.9,948 766.4,950.3 780.1,950.7 792.8,945.7 803.4,954.9 817.1,949.1 830.1,951.8 842,947.2 852.2,955.6 864.1,957.1 870.5,968.6 877.6,957.1 886.5,960.2 897.9,968.6 906.3,967 911.6,979.5 922.3,978.5 929.9,980 935.2,992.2 943.6,980.8 948.2,993.7 952.8,1006.7 961.1,1017.3 969.5,1022.7 974.9,1021.1 981.7,1026.5 987.8,1041 993.9,1028 998.5,1030.3 1002.2,1040.7 1012.6,1045.9 1003.7,1054.1 1011.1,1058.5 1020,1058.5 1006.7,1068.1 1009.6,1073.3 1023,1045.2 1030.4,1037 1036.3,1023 1042.2,1037 1049.6,1050.4 1053.3,1037.8 1056.3,1023.7 1063,1030.4 1064.4,1044.4 1067.4,1053.3 1071.9,1044.4 1074.8,1031.1 1077.8,1017.8 1083.7,1034.1 1086.7,1037 1089.6,1022.2 1091.1,1008.9 1095.6,1031.9 1095.6,1045.9 1098.5,1059.3 1101.5,1038.5 1107.4,1045.9 1108.9,1032.6 1113.3,1017.8 1119.3,1026.7 1122.2,1012.6 1122.2,998.5 1126.7,988.1 1128.1,974.1 1143,975.6 1145.9,961.5 1151.9,967.4 1151.9,953.3 1163.7,954.1 1153.3,938.5 1166.7,942.2 1152.6,928.9 1172.6,928.9 1171.1,916.3 1180,920 1188.9,917 1187.4,909.6 1181.5,905.9 1198.2,884.5 1198.7,885.9 1198.9,879.1 1199.5,879.2 1199.8,889.9 1200.2,887.2 1200.6,882.7 1200.9,882.1 1201.5,878 1202,881.2 1202.2,883.6 1202.7,867.3 1202.9,886.6 1203.3,880.7 1203.9,879.5 1204.5,865 1205,865.5 1205.6,884 1205.9,848.6 1206.2,887.3 1206.6,870.2 1206.9,863.4 1207.3,854.5 1207.8,865.3 1208.3,869 1208.9,877 1209.6,865.6 1209.9,875.4 1210.5,876.8 1210.9,865.2 1211.2,871.4 1211.7,839.2 1211.9,871.5 1212.5,825.8 1213.1,843.4 1213.3,835.9 1213.9,868.9 1214.1,853.2 1214.3,858.9 1214.7,867.8 1215.3,844.3 1215.9,831.3 1216.2,848.1 1216.4,823.6 1216.8,847.5 1217.1,813 1217.6,828 1218.2,861.6 1218.6,834.7 1219,844.8 1219.5,838.8 1220,860.7 1220.4,829.3 1220.9,816.6 1221.2,860.3 1221.7,833.7 1221.9,825.2 1222.3,800.6 1222.8,836.3 1223,835.6 1223.5,838.3 1223.8,839.5 1224.3,797.9 1224.6,836.9 1225.2,810.7 1225.6,830.8 1225.9,816.7 1226.3,816.7 1226.7,812 1227.1,839.9 1227.3,827.5 1227.8,811.4 1228.1,840.7 1228.5,803.5 1228.8,833.6 1229.1,810.8 1229.4,841 1229.8,841.9 1230.1,810.7 1230.6,842.8 1231,803.1 1231.3,820.9 1231.6,837 1232.1,799.6 1232.4,836 1232.9,835.3 1233.3,795.4 1233.6,833.7 1233.9,807.4 1234.3,811.3 1234.7,839.5 1235,787 1235.6,835.9 1236.2,810.3 1236.8,836.5 1237.1,826.2 1237.7,821 1238.1,800.9 1238.5,797.5 1238.7,815.7 1239,826.4 1239.3,830.6 1239.8,830.5 1240.4,828 1240.8,787.1 1241.3,794.3 1241.7,814.9 1242.1,804.2 1242.7,811.1 1243.1,797.8 1243.6,805.1 1244.2,797.1 1244.5,800.1 1245,786.6 1245.6,799.1 1246.1,791.4 1246.3,786.1 1246.9,774.6 1247.2,775.8 1247.6,776.2 1248,778.7 1248.3,771 1248.5,771 1248.8,778.9 1249.3,767.4 1249.8,768.6 1250.1,768 1250.6,771.7 1250.9,760.7 1251.3,757.2 1251.7,773.6 1252.1,751.8 1252.4,760.7 1252.8,774.7 1253.2,775 1253.7,759 1254.1,760.8 1254.6,756.1 1255.1,756.6 1255.4,759.4 1255.9,735.1 1256.3,751.7 1256.8,776.9 1257.2,774.2 1257.8,738.9 1258.2,730 1258.7,758.4 1259.3,764.5 1259.8,760.1 1260.2,722.7 1260.7,715.7 1261,759.9 1261.2,719.6 1261.4,765.2 1261.7,714.3 1262.3,718.9 1262.9,750.4 1263.4,765.9 1263.9,755.9 1264.1,753.6 1264.5,749.6 1264.8,751.2 1265.4,708.8 1265.7,738.2 1266.3,717.8 1266.6,717.7 1267,746.9 1267.4,723 1267.8,721.3 1268.2,704.5 1268.6,757 1269,742.7 1269.2,738.8 1269.8,736.7 1270.2,724.4 1270.7,748.3 1271,699.6 1271.5,747.8 1271.9,718.6 1272.4,702.1 1272.7,702.3 1273.2,708.3 1273.5,730.2 1274.1,705.3 1274.6,711.4 1275.2,720.5 1275.5,697.9 1275.7,713.1 1276.1,694 1276.5,702.3 1277,690.6 1277.6,709.3 1278.1,707.7 1278.6,727.3 1279.1,706.5 1279.6,727.2 1280,719.3 1280.6,702.8 1280.9,689 1281.4,712.7 1282,721.1 1282.3,684.3 1282.7,683.8 1283.2,718.2 1283.8,685.9 1284.3,688 1284.7,707.4 1285,676.7 1285.5,685.4 1285.9,697.5 1286.4,672.6 1286.7,689.8 1287.1,680.6 1287.6,706.7 1288,691.3 1288.2,682.2 1288.7,677.3 1289.3,697.2 1289.5,696.6 1289.9,691.3 1290.4,681.8 1290.9,685.6 1291.5,680.5 1292,686.4 1292.5,681.1 1292.8,680.2 1293.1,681.7 1293.6,679.2 1293.9,679.4 1294.4,673.8 1295,677.4 1295.2,679.7 1295.5,673.1 1296,674.8 1296.4,674.4 1296.9,670.2 1297.1,667.2 1297.6,673.1 1298.1,672 1298.4,666.5 1298.8,671.5 1299,667.3 1299.4,669.1 1299.7,663.7 1300.1,664.8 1300.6,661.5 1301.2,657.6 1301.5,656.6 1301.8,662.7 1302.3,655.4 1302.6,656.9 1303.1,659.5 1303.6,655.9 1303.9,653.2 1304.2,653.7 1304.6,649.3 1305,654.2 1305.2,654.4 1305.8,657.5 1306.1,649.4 1306.6,650.5 1307.2,651.2 1307.5,656.6 1308,647.1 1308.5,622.1 1309,647.3 1309.4,640.2 1309.8,623.6 1310.3,614.1 1310.7,642.7 1311.1,637.6 1311.7,653.2 1312,647.3 1312.4,605.4 1312.8,614.2 1313,630.5 1313.6,616.5 1314.2,636.1 1314.5,644.8 1314.9,647.6 1315.4,635.2 1315.8,638.2 1316.4,639.7 1316.8,632.4 1317.2,592.5 1317.4,589.9 1317.7,594 1318.1,625 1318.6,607.1 1319.1,598.6 1319.5,624.5 1319.9,588.8 1320.4,619.3 1320.8,597.3 1321.2,609.6 1321.5,573 1321.8,619 1322.1,598.8 1322.4,583.1 1322.7,594.2 1323,571 1323.2,579 1323.6,571.6 1323.9,594.5 1324.2,609 1324.5,590.6 1324.8,567.2 1325.5,577.5 1325.7,592.4 1326,600.7 1326.3,570.1 1326.6,605.8 1326.9,608.7 1327.3,616.5 1327.6,575.2 1328,608 1328.4,579.3 1328.7,598.7 1329.3,592.1 1329.5,559 1329.8,566.7 1330,559.6 1330.5,607.1 1330.8,610.5 1331.2,599.9 1331.8,605.8 1332,570.8 1332.5,604 1332.7,569.1 1333.3,559.4 1333.7,569.9 1334.1,597.1 1334.4,587.4 1334.9,589.9 1335.4,591.8 1335.8,570.5 1336.1,583.4 1336.5,564.6 1336.8,578.8 1337.2,576.7 1337.6,569.8 1337.9,574.2 1338.1,568.5 1338.6,570.6 1338.9,564.5 1339.4,567.9 1340,569 1340.4,568.5 1340.9,561.8 1341.3,558.4 1341.7,566.5 1341.9,562.1 1342.2,556.7 1342.7,557.4 1342.9,556 1343.4,559.4 1343.6,555.4 1344.2,554.1 1344.6,555.2 1345.2,555.9 1345.7,554.2 1346,550 1346.3,556.8 1346.5,545.2 1347.1,544.9 1347.7,539.6 1348.1,541.3 1348.7,551.5 1349.2,555.9 1349.7,540 1350.2,542.7 1350.5,558.2 1350.9,557 1351.2,544.6 1351.6,552.5 1351.9,534.3 1352.3,519.9 1352.7,551.5 1353.1,546.6 1353.6,523.2 1353.9,563.6 1354.3,533 1354.5,520.9 1354.8,559.2 1355.3,555.4 1355.9,539.7 1356.5,534.2 1356.9,557.2 1357.5,556.3 1357.9,545.3 1358.3,557.8 1358.9,515.1 1359.5,507.5 1359.8,538.9 1360.1,526.5 1360.6,497.4 1361.1,510.9 1361.5,514.6 1362,538.2 1362.3,499.3 1362.7,517.4 1362.9,501.7 1363.4,534 1364.1,550.1 1364.6,513.1 1364.9,509.2 1365.3,521.7 1365.8,511.3 1366.3,506.2 1366.7,541.9 1367.3,506 1367.6,536.3 1367.8,495.5 1368.2,519.4 1368.5,490 1368.8,532.8 1369.2,545 1369.8,544.4 1370,496.6 1370.2,511.2 1370.6,488 1371,490.2 1371.3,499 1371.9,508.7 1372.2,486.1 1372.6,520.5 1373.1,536.9 1373.6,496.8 1373.9,526.7 1374.4,511.1 1375,512.8 1375.3,490 1375.6,517.2 1376.1,531.4 1376.5,516.9 1377.1,524.2 1377.6,501.1 1378,487.1 1378.3,514.8 1378.9,506.3 1379.3,495.5 1379.7,518.2 1380.1,525.1 1380.4,492.5 1380.8,496.8 1381.4,515.3 1382,504.2 1382.2,502.1 1382.7,497.8 1383,506 1383.6,482.6 1384.1,491.9 1384.5,507.5 1385.1,498.3 1385.4,504.2 1385.7,491.2 1386.3,489.8 1386.6,498.7 1387.2,489.7 1387.6,487.9 1387.8,486.5 1388.4,479.6 1388.8,479.2 1389,484.9 1389.5,492 1390,490.9 1390.2,471.7 1390.8,459.5 1391.1,474.9 1391.5,476.4 1391.7,461.2 1392.3,453.4 1392.9,451.9 1393.5,475.4 1394,444.3 1394.2,478 1394.5,445.3 1395.1,482.9 1395.3,487.5 1395.7,452.9 1396,452.7 1396.6,444.6 1396.9,435.8 1397.2,447.5 1397.7,429.5 1398,480.3 1398.7,481.2 1399,442.9 1399.6,449.3 1400.1,437.7 1400.3,439.1 1400.8,463.9 1401.3,443.8 1401.7,441.4 1402.2,463.7 1402.5,448.7 1403.1,462.4 1403.3,468.6 1403.9,419.5 1404.2,420.7 1404.5,466.7 1404.8,459.3 1405.1,407.4 1405.7,452.5 1406.3,444.4 1406.7,448 1407,434.1 1407.4,410.1 1407.8,419.3 1408.3,421.1 1408.6,419.3 1409.1,452.4 1409.7,444.2 1410.2,410.5 1410.8,407.4 1411.1,420.1 1411.6,409.1 1412.1,404.2 1412.7,412.5 1413.1,416 1413.7,441.6 1414.1,407.7 1414.6,384 1415,429.6 1415.5,380.7 1416.1,398.5 1416.7,395.7 1417,405.7 1417.6,397 1418.2,411.8 1418.5,385.6 1419,389.5 1419.3,402.7 1419.9,396 1420.2,373.6 1420.5,394.7 1420.8,363.1 1421.2,373.1 1421.4,386.3 1422,383.2 1422.5,395.5 1423.1,395.6 1423.5,382.5 1423.7,389 1424.1,370.5 1424.7,360.7 1425,374.1 1425.4,353.7 1425.6,358.1 1425.9,363.3 1426.1,354.8 1426.3,356" stroke="#000" stroke-width="6.1" stroke-linecap="round" stroke-dasharray="0 13.66"/>
<path d="M1656,185.4 1659.5,187.7 1663.5,181 1667.5,150.9 1670.2,180.7 1673.4,175.2 1675.1,157.6 1677.2,157.7 1680.2,134.9 1682.2,142 1686.2,154.6 1688.1,153.4 1689.8,144.8 1691.6,120.4 1695.4,123.2 1697.4,148.5 1700,161 1701.3,120.2 1705.4,128.6 1708.7,116.1 1712.7,133 1716.8,139.7 1719.1,120.1 1720.9,112 1722,161 1722.5,117.1 1725.6,105.6 1728.9,116.7 1731.2,133.3 1733.9,114.5 1736.6,127.7 1738.2,137 1739.7,128.5 1742.7,146 1743.4,101.1 1747,112.7 1750.1,99.1 1751.6,104.9 1755.7,104.5 1759.2,130.1 1763.2,108 1765.6,113.9 1769.2,98.1 1772.7,122.3 1776.5,94.5 1780.5,95.9 1782.9,114.3 1786.9,104 1789,155 1790.8,110.8 1793.1,102.3 1795,93.5 1796.8,115.2 1801,95.5 1802.6,124.8 1805.5,103.2 1807.5,109.4 1811.2,103.4 1813.8,88.3 1817.8,86.4 1818.8,122 1820.6,114.7 1822.3,110.4 1826.4,105.7 1830,85.8 1832.6,86.3 1836.4,90.1 1839,114.4 1842,164 1842.8,112 1845.5,93.4 1848.9,91.7 1851.2,88.1 1853,86.4 1857.1,105.7 1860,88 1860,102.1 1860.8,87.1 1861.3,63.7 1861.6,60 1861.9,86.1 1862.7,81.3 1863.5,76.3 1864.2,98.1 1864.8,88.8 1864.9,114 1865.5,72 1866.1,101.3 1866.6,101.1 1867.3,102.9 1867.8,66.7 1868.6,100.7 1869.2,66.4 1869.6,92.3 1870,107.4 1870.7,71.2 1871.4,78.7 1872.3,104.9 1872.9,92 1873.6,99.6 1874.5,62.1 1875,89.5 1875.5,88.8 1875.8,102.7 1876.4,65.9 1877.1,75.1 1877.6,83.3 1877.9,70 1878.8,93.3 1879.1,97.1 1879.4,75.6 1880.2,89.2 1880.7,77.5 1881.2,65.3 1882.1,61.6 1882.7,94.7 1883.2,105.9 1883.7,105.7 1884.5,90.7 1885.3,79.8 1886.1,96.3 1886.7,80.6 1887.5,77.5 1887.8,93.6 1888.3,81 1889.1,65.7 1889.4,63.3 1890,74.6 1890.5,78.8 1891.3,69.2 1891.9,99 1892.5,69.5 1893.1,79.5 1893.5,74.6 1894,95 1894.5,87.9 1894.6,134 1895.4,100.3 1895.9,84.9 1896.4,74.9 1897,93.8 1897.8,69.4 1898.2,77 1898.5,56.8 1899.2,60.6 1900,72.4 1900.6,51 1900.8,95.9 1901.2,64.2 1902,84.3 1902.6,92.4 1903.4,78.3 1904,59.5 1904.5,61.6 1905.2,83.7 1905.6,84.7 1905.9,59.6 1906.6,76.7 1907.4,84.6 1908.2,60.5 1909,58.3 1909.6,98 1910.5,97.1 1911,87.5 1911.8,60.7 1912.7,97.7 1913.2,91.4 1913.8,67.2 1914.5,57 1915.3,100.8 1915.8,98.9 1916.1,95 1916.6,100.1 1917.2,98 1917.5,57.8 1918.3,84.3 1918.9,55.2 1919.3,71.3 1919.6,101.2 1920.4,99.1 1921.1,69.9 1921.5,88.5 1921.8,79.6 1922.4,77.1 1922.8,56.8 1923.4,54.7 1924,60.4 1924.5,60.4 1925.1,71.8 1925.5,63.7 1926.2,96.7 1926.6,163 1926.7,60.8 1927.2,64.5 1927.9,90.7 1928.5,61.9 1929,71.1 1929.6,71.9 1930.5,79.2 1931.1,87 1931.8,91.3 1932.4,84.6 1933.2,60.4 1933.9,70.9 1934.3,54.3 1935,57.9 1935.7,57.1 1936.3,53.8 1936.9,90 1937.3,79.3 1937.7,56.7 1938.2,66.2 1938.8,86.9 1939.6,60.1 1940.3,57.8 1940.6,99.2 1941,96.2 1941.7,84.4 1942.5,83.2 1942.9,73.3 1943.3,93.2 1944.1,89.8 1944.5,80.4 1945,89.9 1945.7,99.8 1946.5,84.8 1947.2,56.5 1947.9,53.6 1948.4,57.6 1949.3,53.3 1950.1,97.5 1950.6,110 1950.7,92 1951,58.7 1951.3,55.3 1951.6,91.8 1952,80.4 1952.5,58.4 1953,60.7 1953.9,70.4 1954.5,79.1 1955.2,75.1 1955.7,58.6 1956.3,53 1956.5,61.2 1957.1,90.8 1957.7,97.5 1958.5,76.7 1958.9,80.4 1959.5,93.4 1960.1,85.3 1960.9,74.6 1961.7,95.2 1962.1,96.1 1962.9,93 1963.4,64.1 1963.8,69.8 1964.6,69.4 1964.9,66.6 1965.2,81.9 1966,96.5 1966.4,70.3 1966.7,95.7 1967.5,77 1968.4,77 1968.9,104 1969.2,75.4 1969.7,99.7 1970.5,80.4 1971.3,83.2 1972.1,55.2 1972.5,57.3 1973.1,86.5 1973.5,76.2 1973.9,85 1974.7,56.2 1975.6,83.9 1975.9,68.8 1976.3,86.9 1977.2,60.4 1977.6,82.2 1978.4,87.5 1979,57.3 1979.6,73.9 1980.4,79.4 1981.2,98.5 1981.8,95.6 1982.3,51.9 1983.1,53.2 1984,73.6 1984.4,64.9 1985.1,70.1 1985.8,56.5 1986,137 1986.6,69.5 1987.4,58.6 1988.1,74 1988.6,52.4 1989.2,91.6 1989.6,72.8 1989.9,99.1 1990.8,83.8 1991.4,54.6 1991.8,85.1 1992.5,98.6 1993.3,72.1 1993.8,77.1 1994.3,77.2 1995.1,72.7 1996,85.4 1996.4,86.8 1997,80.7 1997.4,93 1997.9,76.6 1998.4,52.5 1998.7,60.8 1999.1,58.1 1999.5,85.6 2000.2,93 2000.6,85.6 2001.3,54.9 2002.1,67.7 2002.5,59.3 2003.4,61 2003.9,76.7 2004.4,81.9 2004.8,71 2005.4,80 2006.1,63.2 2006.8,96.9 2007.4,81.1 2008.2,62.2 2008.6,96.7 2009.1,70.5 2009.6,97.7 2010,122 2010.3,93 2010.7,63.4 2011.3,65.3 2012,51 2012,74.5 2012.4,55.5 2013,75.8 2013.4,62.8 2013.7,63 2014.1,68.9 2014.8,91.2 2015.5,85.8 2016,74.1 2016.7,93.2 2017.2,51.1 2017.5,75.1 2018.3,57.8 2019.1,81.2 2019.9,93.8 2020.3,88.6 2020.7,56.2 2021.2,74 2021.5,63.8 2022,57.1 2022.3,51.8 2022.7,66.4 2023.3,84 2024,74.1 2024.5,80.2 2024.9,59.3 2025.2,82.9 2025.6,61.5 2026.1,77.9 2026.8,79.3 2027,150 2027.5,60.1 2028.3,86.3 2028.9,70 2029.5,56.7 2030.2,94.4 2030.7,75 2031.2,94.7 2031.7,68.4 2032.4,69 2033.3,70.9 2033.9,65.9 2034.3,53 2034.6,73.9 2034.9,93.9 2035.3,78.9 2036,73.8 2036.5,73.1 2037.4,52 2038.3,80.6 2038.9,82.1 2039.5,91.4 2040.4,76.3 2040.9,69 2041.8,74.7 2042.1,79.8 2042.5,68.3 2043.2,81.1 2043.8,91.6 2044.5,98.3 2045.3,64.5 2046,69.2 2046.9,81.6 2047.4,60.3 2048.3,68.9 2048.6,90.5 2048.9,54.1 2049,76" stroke="#000" stroke-width="6.1" stroke-linecap="round" stroke-dasharray="0 13.66"/>
<path d="M1430.9,362 1427.4,362.7 1427,363.4 1428.2,364.1 1436.9,364.8 1428.3,365.5 1430.5,366.2 1435.6,366.9 1433.2,367.6 1440,368.3 1432.3,369 1431.2,369.7 1434.4,370.4 1427.7,371.1 1439.3,371.8 1430.4,372.5 1430.6,373.2 1435.6,373.9 1426.6,374.6 1435.2,375.3 1438.4,376 1429.8,376.7 1440.1,377.4 1433,378.1 1437.2,378.8 1432,379.5 1430.8,380.2 1428.6,380.9 1424.1,381.6 1427.5,382.3 1440.8,383 1433.1,383.7 1431.9,384.4 1439.3,385.1 1434.3,385.8 1440.6,386.5 1430.1,387.2 1427.7,387.9 1439.7,388.6 1426.7,389.3 1437.5,390 1434.1,390.7 1440.7,391.4 1440,392.1 1435.2,392.8 1424.6,393.5 1424.4,394.2 1432.1,394.9 1437.9,395.6 1425.4,396.3 1431.2,397 1425.5,397.7 1429.3,398.4 1424.1,399.1 1429.6,399.8 1434.3,400.5 1429.8,401.2 1438,401.9 1427.8,402.6 1430,403.3 1430.6,404 1432.7,404.7 1437.7,405.4 1432,406.1 1436.7,406.8 1439.9,407.5 1428.8,408.2 1439.1,408.9 1435.4,409.6 1437.5,410.3 1435.5,411 1432.7,411.7 1428.4,412.4 1429,413.1 1429.4,413.8 1429.5,414.5 1429,415.2 1429.9,415.9 1434.9,416.6 1437.8,417.3 1438.2,418 1438.8,418.7 1428.6,419.4 1438.5,420.1 1429.6,420.8 1428,421.5 1431,422.2 1435.2,422.9 1427.7,423.6 1430,424.3 1432.6,425 1438.5,425.7 1432.6,426.4 1432.8,427.1 1432.2,427.8 1428.3,428.5 1439.3,429.2 1439.9,429.9 1437.1,430.6 1432.6,431.3 1433.2,432" stroke="#000" stroke-width="6.1" stroke-linecap="round" stroke-dasharray="0 13.66"/>
<g fill="#000" stroke="none"><circle cx="1002.2" cy="1040.7" r="3.05"/><circle cx="1012.6" cy="1045.9" r="3.05"/><circle cx="1003.7" cy="1054.1" r="3.05"/><circle cx="1011.1" cy="1058.5" r="3.05"/><circle cx="1020" cy="1058.5" r="3.05"/><circle cx="1006.7" cy="1068.1" r="3.05"/><circle cx="1009.6" cy="1073.3" r="3.05"/><circle cx="1023" cy="1045.2" r="3.05"/><circle cx="1030.4" cy="1037" r="3.05"/><circle cx="1036.3" cy="1023" r="3.05"/><circle cx="1042.2" cy="1037" r="3.05"/><circle cx="1049.6" cy="1050.4" r="3.05"/><circle cx="1053.3" cy="1037.8" r="3.05"/><circle cx="1056.3" cy="1023.7" r="3.05"/><circle cx="1063" cy="1030.4" r="3.05"/><circle cx="1064.4" cy="1044.4" r="3.05"/><circle cx="1067.4" cy="1053.3" r="3.05"/><circle cx="1071.9" cy="1044.4" r="3.05"/><circle cx="1074.8" cy="1031.1" r="3.05"/><circle cx="1077.8" cy="1017.8" r="3.05"/><circle cx="1083.7" cy="1034.1" r="3.05"/><circle cx="1086.7" cy="1037" r="3.05"/><circle cx="1089.6" cy="1022.2" r="3.05"/><circle cx="1091.1" cy="1008.9" r="3.05"/><circle cx="1095.6" cy="1031.9" r="3.05"/><circle cx="1095.6" cy="1045.9" r="3.05"/><circle cx="1098.5" cy="1059.3" r="3.05"/><circle cx="1101.5" cy="1038.5" r="3.05"/><circle cx="1107.4" cy="1045.9" r="3.05"/><circle cx="1108.9" cy="1032.6" r="3.05"/><circle cx="1113.3" cy="1017.8" r="3.05"/><circle cx="1119.3" cy="1026.7" r="3.05"/><circle cx="1122.2" cy="1012.6" r="3.05"/><circle cx="1122.2" cy="998.5" r="3.05"/><circle cx="1126.7" cy="988.1" r="3.05"/><circle cx="1128.1" cy="974.1" r="3.05"/><circle cx="1143" cy="975.6" r="3.05"/><circle cx="1145.9" cy="961.5" r="3.05"/><circle cx="1151.9" cy="967.4" r="3.05"/><circle cx="1151.9" cy="953.3" r="3.05"/><circle cx="1163.7" cy="954.1" r="3.05"/><circle cx="1153.3" cy="938.5" r="3.05"/><circle cx="1166.7" cy="942.2" r="3.05"/><circle cx="1152.6" cy="928.9" r="3.05"/><circle cx="1172.6" cy="928.9" r="3.05"/><circle cx="1171.1" cy="916.3" r="3.05"/><circle cx="1180" cy="920" r="3.05"/><circle cx="1188.9" cy="917" r="3.05"/><circle cx="1187.4" cy="909.6" r="3.05"/><circle cx="1181.5" cy="905.9" r="3.05"/><circle cx="1447.7" cy="373.8" r="3.05"/><circle cx="1454.6" cy="361.5" r="3.05"/><circle cx="1466.9" cy="360.8" r="3.05"/><circle cx="1476.2" cy="356.2" r="3.05"/><circle cx="1480.8" cy="343.1" r="3.05"/><circle cx="1485" cy="330.5" r="3.05"/><circle cx="1489.2" cy="316.8" r="3.05"/><circle cx="1496" cy="305.2" r="3.05"/><circle cx="1502.1" cy="292.2" r="3.05"/><circle cx="1509" cy="279.9" r="3.05"/><circle cx="1514.5" cy="267.5" r="3.05"/><circle cx="1520.6" cy="255.2" r="3.05"/><circle cx="1526.8" cy="243.6" r="3.05"/><circle cx="1537.7" cy="235.4" r="3.05"/><circle cx="1545.9" cy="244.3" r="3.05"/><circle cx="1552.1" cy="255.9" r="3.05"/><circle cx="1554.1" cy="269.6" r="3.05"/><circle cx="1556.2" cy="283.3" r="3.05"/><circle cx="1558.2" cy="297" r="3.05"/><circle cx="1560.3" cy="311.3" r="3.05"/><circle cx="1562.3" cy="323.6" r="3.05"/><circle cx="1564.4" cy="307.9" r="3.05"/><circle cx="1565.8" cy="293.5" r="3.05"/><circle cx="1567.1" cy="279.9" r="3.05"/><circle cx="1568.2" cy="266.2" r="3.05"/><circle cx="1569.3" cy="252.5" r="3.05"/><circle cx="1570.1" cy="238.8" r="3.05"/><circle cx="1571.2" cy="224.5" r="3.05"/><circle cx="1574" cy="211.5" r="3.05"/><circle cx="1583.5" cy="223.8" r="3.05"/><circle cx="1587" cy="209.4" r="3.05"/><circle cx="1593.1" cy="197.1" r="3.05"/><circle cx="1604.1" cy="210.1" r="3.05"/><circle cx="1610.9" cy="208.7" r="3.05"/><circle cx="1612.3" cy="195.7" r="3.05"/><circle cx="1617.7" cy="190.3" r="3.05"/><circle cx="1621.8" cy="203.3" r="3.05"/><circle cx="1623.9" cy="216.9" r="3.05"/><circle cx="1626.6" cy="190.9" r="3.05"/><circle cx="1615.7" cy="182.7" r="3.05"/><circle cx="1638.3" cy="183.4" r="3.05"/><circle cx="1641" cy="195.7" r="3.05"/><circle cx="1647.8" cy="195.7" r="3.05"/><circle cx="1645.1" cy="210.1" r="3.05"/><circle cx="1649.9" cy="182.1" r="3.05"/><circle cx="1656" cy="180.7" r="3.05"/><circle cx="1660" cy="170" r="3.05"/><circle cx="1668" cy="160" r="3.05"/><circle cx="1675" cy="172" r="3.05"/><circle cx="1683" cy="150" r="3.05"/><circle cx="1690" cy="140" r="3.05"/><circle cx="1700" cy="121.7" r="3.05"/><circle cx="1700" cy="160.7" r="3.05"/><circle cx="1705" cy="130" r="3.05"/><circle cx="1716.7" cy="95.7" r="3.05"/><circle cx="1722.3" cy="132.9" r="3.05"/><circle cx="1722.3" cy="160.7" r="3.05"/><circle cx="1730" cy="120" r="3.05"/><circle cx="1742.7" cy="145.8" r="3.05"/><circle cx="1746.4" cy="103.1" r="3.05"/><circle cx="1755.7" cy="106.9" r="3.05"/><circle cx="1765" cy="93.9" r="3.05"/><circle cx="1774.3" cy="114.3" r="3.05"/><circle cx="1787.3" cy="123.6" r="3.05"/><circle cx="1789.1" cy="155.1" r="3.05"/><circle cx="1792" cy="110" r="3.05"/><circle cx="1798.4" cy="97.6" r="3.05"/><circle cx="1811.4" cy="95.7" r="3.05"/><circle cx="1818.8" cy="121.7" r="3.05"/><circle cx="1822.6" cy="75.3" r="3.05"/><circle cx="1828" cy="100" r="3.05"/><circle cx="1833.7" cy="110.6" r="3.05"/><circle cx="1841.1" cy="136.6" r="3.05"/><circle cx="1842.1" cy="164.4" r="3.05"/><circle cx="1848" cy="115" r="3.05"/><circle cx="1854.1" cy="110.6" r="3.05"/><circle cx="1861.6" cy="60.4" r="3.05"/><circle cx="1863.4" cy="114.3" r="3.05"/><circle cx="1870" cy="90" r="3.05"/><circle cx="1876.4" cy="84.6" r="3.05"/><circle cx="1885.7" cy="105" r="3.05"/><circle cx="1890" cy="70" r="3.05"/><circle cx="1895" cy="132.9" r="3.05"/><circle cx="1900.6" cy="51.1" r="3.05"/><circle cx="1905" cy="95" r="3.05"/><circle cx="1908" cy="77.1" r="3.05"/><circle cx="1915" cy="100" r="3.05"/><circle cx="1921" cy="95.7" r="3.05"/><circle cx="1926.6" cy="162.6" r="3.05"/><circle cx="1928.4" cy="123.6" r="3.05"/><circle cx="1933" cy="80" r="3.05"/><circle cx="1937.7" cy="56.7" r="3.05"/><circle cx="1944" cy="100" r="3.05"/><circle cx="1950.7" cy="86.4" r="3.05"/><circle cx="1956.3" cy="53" r="3.05"/><circle cx="1962" cy="90" r="3.05"/><circle cx="1969.3" cy="95.7" r="3.05"/><circle cx="1974" cy="70" r="3.05"/><circle cx="1978.6" cy="58.6" r="3.05"/><circle cx="1984.1" cy="136.6" r="3.05"/><circle cx="1988" cy="95" r="3.05"/><circle cx="1997.1" cy="77.1" r="3.05"/><circle cx="2004" cy="100" r="3.05"/><circle cx="2012" cy="51.1" r="3.05"/><circle cx="2015.7" cy="86.4" r="3.05"/><circle cx="2020" cy="110" r="3.05"/><circle cx="2026.8" cy="149.6" r="3.05"/><circle cx="2026.8" cy="95.7" r="3.05"/><circle cx="2030" cy="70" r="3.05"/><circle cx="2034.3" cy="53" r="3.05"/><circle cx="2038" cy="90" r="3.05"/><circle cx="2043.5" cy="77.1" r="3.05"/><circle cx="2046" cy="100" r="3.05"/><circle cx="2049.1" cy="95.7" r="3.05"/></g>
<g fill="#00ff00" stroke="none"><circle cx="311" cy="1234" r="7"/><circle cx="335.9" cy="1235.3" r="7"/><circle cx="361.9" cy="1236.5" r="7"/><circle cx="387.9" cy="1239.6" r="7"/><circle cx="412" cy="1242.1" r="7"/><circle cx="437.4" cy="1234" r="7"/><circle cx="462.2" cy="1236.5" r="7"/><circle cx="488.2" cy="1239.6" r="7"/><circle cx="512.3" cy="1234.7" r="7"/><circle cx="534.6" cy="1235.9" r="7"/><circle cx="560.5" cy="1241.5" r="7"/><circle cx="580.3" cy="1233.4" r="7"/><circle cx="605.7" cy="1244.6" r="7"/><circle cx="624.3" cy="1244" r="7"/><circle cx="642.2" cy="1247" r="7"/><circle cx="663.9" cy="1250.1" r="7"/><circle cx="688.7" cy="1257.6" r="7"/><circle cx="711.6" cy="1252.6" r="7"/><circle cx="728.3" cy="1256.3" r="7"/><circle cx="745.6" cy="1265" r="7"/><circle cx="758" cy="1253.2" r="7"/><circle cx="770.4" cy="1271.2" r="7"/><circle cx="785.2" cy="1266.9" r="7"/><circle cx="804.3" cy="1267.8" r="7"/><circle cx="812.2" cy="1286" r="7"/><circle cx="821.7" cy="1284.3" r="7"/><circle cx="837.4" cy="1293.8" r="7"/><circle cx="853" cy="1294.7" r="7"/><circle cx="860.8" cy="1303.4" r="7"/><circle cx="872.1" cy="1293" r="7"/><circle cx="874.7" cy="1315.6" r="7"/><circle cx="901.7" cy="1319" r="7"/><circle cx="915.6" cy="1338.1" r="7"/><circle cx="927.7" cy="1356.4" r="7"/><circle cx="938.2" cy="1377.3" r="7"/><circle cx="946.8" cy="1385.1" r="7"/><circle cx="955.5" cy="1401.6" r="7"/><circle cx="964.2" cy="1399" r="7"/><circle cx="969.4" cy="1407.7" r="7"/><circle cx="978.1" cy="1419.8" r="7"/><circle cx="988.5" cy="1423.3" r="7"/><circle cx="983.3" cy="1430.3" r="7"/><circle cx="996.4" cy="1436" r="7"/><circle cx="1002.5" cy="1450.5" r="7"/><circle cx="1011.6" cy="1465.7" r="7"/><circle cx="1020.8" cy="1464.2" r="7"/><circle cx="1029.9" cy="1468.8" r="7"/><circle cx="1044.4" cy="1469.5" r="7"/><circle cx="1068" cy="1471.8" r="7"/><circle cx="1082.5" cy="1473.3" r="7"/><circle cx="1098.5" cy="1474.1" r="7"/><circle cx="1111.4" cy="1473.3" r="7"/><circle cx="1119.8" cy="1474.9" r="7"/></g>
<path d="M311,1022.4 352.6,1015.2 409.8,1008.6 446,1007.6 473.6,1028.6 499.8,1033.3 521.7,1015.2 542.6,1017.1 563.6,1028.6 578.8,1028.6 609.3,1045.7 622.6,1036.2 634,1060 647,1062.5 658.8,1053.3 671.2,1059 680,1071.2 688,1084 703.9,1090.4 713.5,1096.8 721.5,1087.2 734.2,1111.1 750.2,1115.9 756.6,1112.7 769.3,1131.9 780.5,1147.8 786.9,1136.6 796.4,1170.1 807.6,1176.5 816.5,1214.8 821.7,1209.5 832.1,1237.4 840.8,1220 851.3,1253 859.9,1273.8 870.4,1284.3 884.3,1291.2 898.2,1336.4 908.6,1379.9 919,1388.5 926,1399 943.4,1426.8 953.8,1437.2 971.2,1461.5 976.4,1475.4 990,1470 1000,1472 1023,1474 1040,1477" stroke="#00f" stroke-width="6.6" stroke-linecap="butt"/>
<path d="M311,1031.4 409.8,989.5 444,980.5 468.8,985.7 495,987.6 523.6,981.9 540.7,989.5 548.3,1000 559.8,1005.7 578.8,1007.6 597.9,1029.5 608.3,1011.4 617.9,1028.6 627.4,1032.4 639.8,1026.7 656.9,1008.6 666.4,1020 680.7,1028.6 689.6,1026.6 697.5,1052.1 713.5,1061.7 721.5,1055.3 732.6,1063.3 742.2,1088.8 753.4,1085.6 762.9,1077.6 769.3,1098.3 778.9,1104.7 783.7,1133.4 794.9,1136.6 804.4,1143 807.6,1163.7 818.8,1181.3 828.3,1187.7 834.7,1221.2 844.3,1230.4 859.9,1261.7 879.1,1284.3 895,1330 910.3,1379.9 929.5,1432 953.8,1458 962.5,1468.5 971.2,1473.7 990,1475 1010,1477" stroke="#f00" stroke-width="6.6" stroke-linecap="butt"/>
<path d="M311,1001 337,1002 345,1006 380,1005 446,1002 474.5,993.3 499.8,982.9 518.8,995.2 533.1,1008.6 547.4,1009.5 556,1008.6 569.3,999 609.3,996.7 615,1001.9 623.6,1009.5 630.2,1017.1 643.6,1016.2 679.8,1013.3 697.5,1028.2 711.9,1033 727.9,1043.3 743.8,1048.1 756.6,1076 769.3,1080.8 782.1,1103.1 793.3,1098.3 802.8,1119.1 810.8,1139.8 820.4,1152.6 833.1,1173.3 841.1,1205.2 856.5,1225.2 865.2,1237.4 873.8,1270.4 884.3,1287.8 891.2,1301.7 908.6,1353.8 919,1376.4 927.7,1402.5 936.4,1416.4 946.8,1432 953.8,1432 960.7,1440.7 967.7,1444.2 971.2,1458 978,1473 990,1477.5 1234,1477.5" stroke="#000" stroke-width="6.6" stroke-linecap="butt"/>
<path d="M311,1013.3 409.8,982.4 444,996.2 474.5,987.6 495,996.2 523.6,1002.9 542.6,993.3 563.6,981.9 578.8,995.2 595,1009.5 609.3,1030.5 622.6,996.2 633.1,1017.1 647.4,1028.6 656.9,1021.9 677.9,1037.1 688.3,1029.5 697.5,1064.9 705.5,1050.5 719.9,1056.1 732.6,1056.1 737.4,1061.7 748.6,1095.2 756.6,1096.8 769.3,1114.3 782.1,1107.9 793.3,1130.3 798,1114.3 814,1135 818.8,1173.3 828.3,1184.5 834.7,1186.1 842.7,1198.8 847.5,1200.4 858.2,1237.4 868.6,1246 875.6,1284.3 884.3,1305.1 893,1353.8 908.6,1362.5 917.3,1371.2 922.5,1407.7 927.7,1404.2 939.9,1437.2 950.3,1451.1 964.2,1458 971.2,1472 988.5,1474 1000,1477" stroke="#00ff00" stroke-width="6.6" stroke-linecap="butt"/>
</g>
<rect x="310.0" y="45.8" width="1772.0" height="1433.7" fill="none" stroke="#000" stroke-width="5.5"/>
<path d="M282,1479.5H310.0M296.5,1336.1H310.0M282,1192.7H310.0M296.5,1049.3H310.0M282,905.9H310.0M296.5,762.5H310.0M282,619.1H310.0M296.5,475.7H310.0M282,332.3H310.0M296.5,188.9H310.0M282,45.8H310.0M310,1479.5V1493.5M365.8,1479.5V1493.5M409.2,1479.5V1493.5M444.6,1479.5V1493.5M474.5,1479.5V1493.5M500.5,1479.5V1493.5M523.3,1479.5V1493.5M543.8,1479.5V1506.5M678.4,1479.5V1493.5M757.2,1479.5V1493.5M813,1479.5V1493.5M856.4,1479.5V1493.5M891.8,1479.5V1493.5M921.7,1479.5V1493.5M947.7,1479.5V1493.5M970.5,1479.5V1493.5M991,1479.5V1506.5M1125.6,1479.5V1493.5M1204.4,1479.5V1493.5M1260.2,1479.5V1493.5M1303.6,1479.5V1493.5M1339,1479.5V1493.5M1368.9,1479.5V1493.5M1394.9,1479.5V1493.5M1417.7,1479.5V1493.5M1438.2,1479.5V1506.5M1572.8,1479.5V1493.5M1651.6,1479.5V1493.5M1707.4,1479.5V1493.5M1750.8,1479.5V1493.5M1786.2,1479.5V1493.5M1816.1,1479.5V1493.5M1842.1,1479.5V1493.5M1864.9,1479.5V1493.5M1885.4,1479.5V1506.5M2020,1479.5V1493.5" stroke="#000" stroke-width="5" fill="none"/>
<g font-family="&apos;Liberation Serif&apos;, &apos;Times New Roman&apos;, serif" font-size="74" text-anchor="end" fill="#000"><text x="265" y="1501.3">0</text><text x="265" y="1214.5">200</text><text x="265" y="927.7">400</text><text x="265" y="640.9">600</text><text x="265" y="354.1">800</text><text x="265" y="67.6">1000</text></g>
<g font-family="&apos;Liberation Serif&apos;, &apos;Times New Roman&apos;, serif" font-size="74" text-anchor="middle" fill="#000"><text x="541.3" y="1584.5">0.1</text><text x="990" y="1584.5">1</text><text x="1440.2" y="1584.5">10</text><text x="1887.4" y="1584.5">100</text></g>
<text font-family="&apos;Liberation Serif&apos;, &apos;Times New Roman&apos;, serif" font-size="81.5" x="1196" y="1713.5" text-anchor="middle">Time/ps</text>
<text font-family="&apos;Liberation Serif&apos;, &apos;Times New Roman&apos;, serif" font-size="81.5" transform="translate(82,763.3) rotate(-90)" text-anchor="middle">Population of fragments</text>
<text font-family="&apos;Liberation Serif&apos;, &apos;Times New Roman&apos;, serif" font-size="60.7" x="320.5" y="125.8">T=2500K</text>
<path d="M320.5,182.1H461" stroke="#000" stroke-width="7" stroke-linecap="round" fill="none"/>
<text font-family="&apos;Liberation Serif&apos;, &apos;Times New Roman&apos;, serif" font-size="60.6" x="458" y="201.7">CL−20(CL−20/H<tspan class="s" dy="16.3">2</tspan><tspan dy="-16.3">O)</tspan></text>
<path d="M320.7,271.3H445" stroke="#000" stroke-width="6.6" stroke-linecap="round" stroke-dasharray="0 13.73" fill="none"/>
<text font-family="&apos;Liberation Serif&apos;, &apos;Times New Roman&apos;, serif" font-size="60.6" x="458" y="290.9">H<tspan class="s" dy="16.3">2</tspan><tspan dy="-16.3">O(CL−20/H</tspan><tspan class="s" dy="16.3">2</tspan><tspan dy="-16.3">O)</tspan></text>
<path d="M320.5,360.6H461" stroke="#f00" stroke-width="7" stroke-linecap="round" fill="none"/>
<text font-family="&apos;Liberation Serif&apos;, &apos;Times New Roman&apos;, serif" font-size="60.6" x="458" y="380.2">CL−20(CL−20/CO<tspan class="s" dy="16.3">2</tspan><tspan dy="-16.3">)</tspan></text>
<path d="M320.7,449.8H445" stroke="#f00" stroke-width="6.6" stroke-linecap="round" stroke-dasharray="0 13.73" fill="none"/>
<text font-family="&apos;Liberation Serif&apos;, &apos;Times New Roman&apos;, serif" font-size="60.6" x="458" y="469.4">CO<tspan class="s" dy="16.3">2</tspan><tspan dy="-16.3">(CL−20/CO</tspan><tspan class="s" dy="16.3">2</tspan><tspan dy="-16.3">)</tspan></text>
<path d="M320.5,539.1H461" stroke="#00f" stroke-width="7" stroke-linecap="round" fill="none"/>
<text font-family="&apos;Liberation Serif&apos;, &apos;Times New Roman&apos;, serif" font-size="60.6" x="458" y="558.7">CL−20(CL−20/N<tspan class="s" dy="16.3">2</tspan><tspan dy="-16.3">O)</tspan></text>
<path d="M320.7,628.3H445" stroke="#00f" stroke-width="6.6" stroke-linecap="round" stroke-dasharray="0 13.73" fill="none"/>
<text font-family="&apos;Liberation Serif&apos;, &apos;Times New Roman&apos;, serif" font-size="60.6" x="458" y="647.9">N<tspan class="s" dy="16.3">2</tspan><tspan dy="-16.3">O(CL−20/N</tspan><tspan class="s" dy="16.3">2</tspan><tspan dy="-16.3">O)</tspan></text>
<path d="M320.5,717.5H461" stroke="#00ff00" stroke-width="7" stroke-linecap="round" fill="none"/>
<text font-family="&apos;Liberation Serif&apos;, &apos;Times New Roman&apos;, serif" font-size="60.6" x="458" y="737.1">CL−20(CL−20/NH<tspan class="s" dy="16.3">2</tspan><tspan dy="-16.3">OH)</tspan></text>
<path d="M320.7,806.8H450" stroke="#00ff00" stroke-width="14" stroke-linecap="round" stroke-dasharray="0 25.8" fill="none"/>
<text font-family="&apos;Liberation Serif&apos;, &apos;Times New Roman&apos;, serif" font-size="60.6" x="458" y="826.4">NH<tspan class="s" dy="16.3">2</tspan><tspan dy="-16.3">OH(CL−20/NH</tspan><tspan class="s" dy="16.3">2</tspan><tspan dy="-16.3">OH)</tspan></text>
</svg>
</body></html>
